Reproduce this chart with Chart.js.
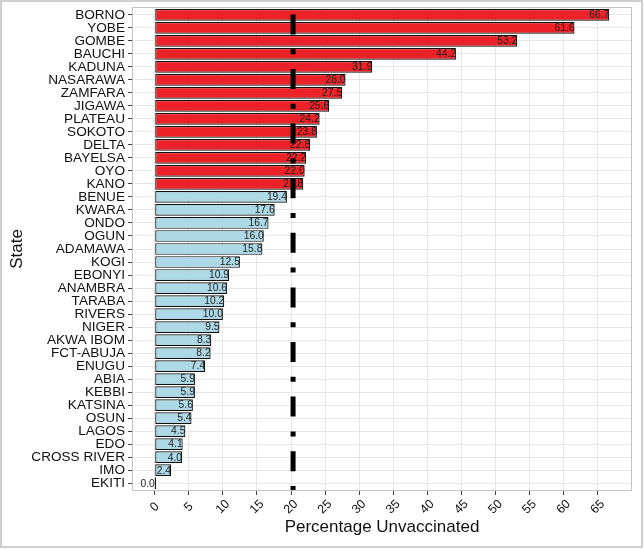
<!DOCTYPE html>
<html><head><meta charset="utf-8">
<script src="https://cdn.jsdelivr.net/npm/chart.js@4.4.1/dist/chart.umd.min.js"></script>
<style>html,body{margin:0;padding:0;background:#fff}canvas{display:block}</style>
</head><body>
<canvas id="c" width="644" height="549"></canvas>
<script>
const states = ['BORNO','YOBE','GOMBE','BAUCHI','KADUNA','NASARAWA','ZAMFARA','JIGAWA','PLATEAU','SOKOTO','DELTA','BAYELSA','OYO','KANO','BENUE','KWARA','ONDO','OGUN','ADAMAWA','KOGI','EBONYI','ANAMBRA','TARABA','RIVERS','NIGER','AKWA IBOM','FCT-ABUJA','ENUGU','ABIA','KEBBI','KATSINA','OSUN','LAGOS','EDO','CROSS RIVER','IMO','EKITI'];
const unvaccinated = [66.7,61.6,53.2,44.2,31.9,28.0,27.5,25.6,24.2,23.8,22.8,22.2,22.0,21.8,19.4,17.6,16.7,16.0,15.8,12.5,10.9,10.6,10.2,10.0,9.5,8.3,8.2,7.4,5.9,5.9,5.6,5.4,4.5,4.1,4.0,2.4,0.0];
const xTicks = [0,5,10,15,20,25,30,35,40,45,50,55,60,65];
const threshold = 20.3;

const FAMILY = '"Liberation Sans", Arial, Helvetica, sans-serif';
const RED = '#EC2228';
const BLUE = '#ADD8E6';

const drawPlugin = {
  id: 'extras',
  beforeDraw(chart) {
    const ctx = chart.ctx;
    ctx.save();
    ctx.fillStyle = '#fff';
    ctx.fillRect(0, 0, chart.width, chart.height);
    ctx.restore();
  },
  afterDatasetsDraw(chart) {
    const ctx = chart.ctx;
    const ca = chart.chartArea;
    const meta = chart.getDatasetMeta(0);
    ctx.save();
    ctx.strokeStyle = '#151515';
    ctx.lineWidth = 1;
    meta.data.forEach((el, i) => {
      if (unvaccinated[i] === 0) {
        ctx.beginPath();
        ctx.moveTo(Math.round(el.x) + 0.5, el.y - el.height / 2);
        ctx.lineTo(Math.round(el.x) + 0.5, el.y + el.height / 2);
        ctx.stroke();
      }
    });
    ctx.font = '10.3px ' + FAMILY;
    ctx.fillStyle = '#1e1e1e';
    ctx.textAlign = 'right';
    ctx.textBaseline = 'middle';
    meta.data.forEach((el, i) => {
      ctx.fillText(unvaccinated[i].toFixed(1), el.x, el.y + 0.5);
    });
    const xs = chart.scales.x;
    const px = xs.getPixelForValue(threshold);
    ctx.beginPath();
    ctx.rect(ca.left, ca.top, ca.right - ca.left, ca.bottom - ca.top);
    ctx.clip();
    ctx.strokeStyle = '#000';
    ctx.lineWidth = 5;
    ctx.lineCap = 'butt';
    ctx.setLineDash([5, 14.8, 20, 14.8]);
    ctx.beginPath();
    ctx.moveTo(px, ca.bottom);
    ctx.lineTo(px, ca.top);
    ctx.stroke();
    ctx.restore();
  },
  afterDraw(chart) {
    const ctx = chart.ctx;
    const ca = chart.chartArea;
    const xs = chart.scales.x;
    ctx.save();
    ctx.strokeStyle = '#c4c4c4';
    ctx.lineWidth = 1;
    ctx.strokeRect(Math.round(ca.left) + 0.5, Math.round(ca.top) + 0.5, Math.round(ca.right - ca.left) - 1, Math.round(ca.bottom - ca.top) - 1);
    ctx.font = '12.5px ' + FAMILY;
    ctx.fillStyle = '#111';
    ctx.textAlign = 'center';
    ctx.textBaseline = 'middle';
    xTicks.forEach(v => {
      const x = xs.getPixelForValue(v);
      ctx.save();
      ctx.translate(x, ca.bottom + 16);
      ctx.rotate(-Math.PI / 4);
      ctx.fillText(String(v), 0, 0);
      ctx.restore();
    });
    ctx.strokeStyle = '#cfcfcf';
    ctx.lineWidth = 2;
    ctx.strokeRect(1, 1, 641, 546);
    ctx.restore();
  }
};

new Chart(document.getElementById('c'), {
  type: 'bar',
  data: {
    datasets: [{
      data: states.map((s, i) => ({ x: unvaccinated[i], y: i })),
      backgroundColor: unvaccinated.map(v => v > threshold ? RED : BLUE),
      borderColor: '#111',
      borderWidth: 1.2,
      borderSkipped: false,
      barPercentage: 0.9,
      categoryPercentage: 1.0
    }]
  },
  options: {
    indexAxis: 'y',
    responsive: false,
    animation: false,
    devicePixelRatio: 1,
    layout: { padding: { top: 0, right: 12, left: 0, bottom: 0 } },
    plugins: { legend: { display: false }, tooltip: { enabled: false } },
    scales: {
      x: {
        type: 'linear',
        position: 'bottom',
        min: -3.335,
        max: 70.035,
        offset: false,
        afterBuildTicks: s => { s.ticks = xTicks.map(v => ({ value: v })); },
        afterFit: s => { s.height = 58; s.paddingLeft = 0; s.paddingRight = 0; },
        grid: { color: '#e6e6e6', lineWidth: 1, drawTicks: true, tickLength: 4, tickColor: '#444', offset: false },
        border: { display: false },
        ticks: { display: false },
        title: { display: true, text: 'Percentage Unvaccinated', color: '#111', font: { size: 17, family: FAMILY }, padding: { top: 0, bottom: 11 } }
      },
      y: {
        type: 'linear',
        position: 'left',
        reverse: true,
        offset: false,
        min: -0.6,
        max: states.length - 0.4,
        afterBuildTicks: s => { s.ticks = states.map((n, i) => ({ value: i })); },
        afterFit: s => { s.width = 132; s.paddingTop = 7; s.paddingBottom = 0; },
        grid: { color: '#e6e6e6', lineWidth: 1, drawTicks: true, tickLength: 4, tickColor: '#444', offset: false },
        border: { display: false },
        ticks: { autoSkip: false, padding: 3, color: '#111', font: { size: 13.6, family: FAMILY }, callback: v => states[v] },
        title: { display: true, text: 'State', color: '#111', font: { size: 17, family: FAMILY }, padding: { top: 7, bottom: 0 } }
      }
    }
  },
  plugins: [drawPlugin]
});
</script>
</body></html>
